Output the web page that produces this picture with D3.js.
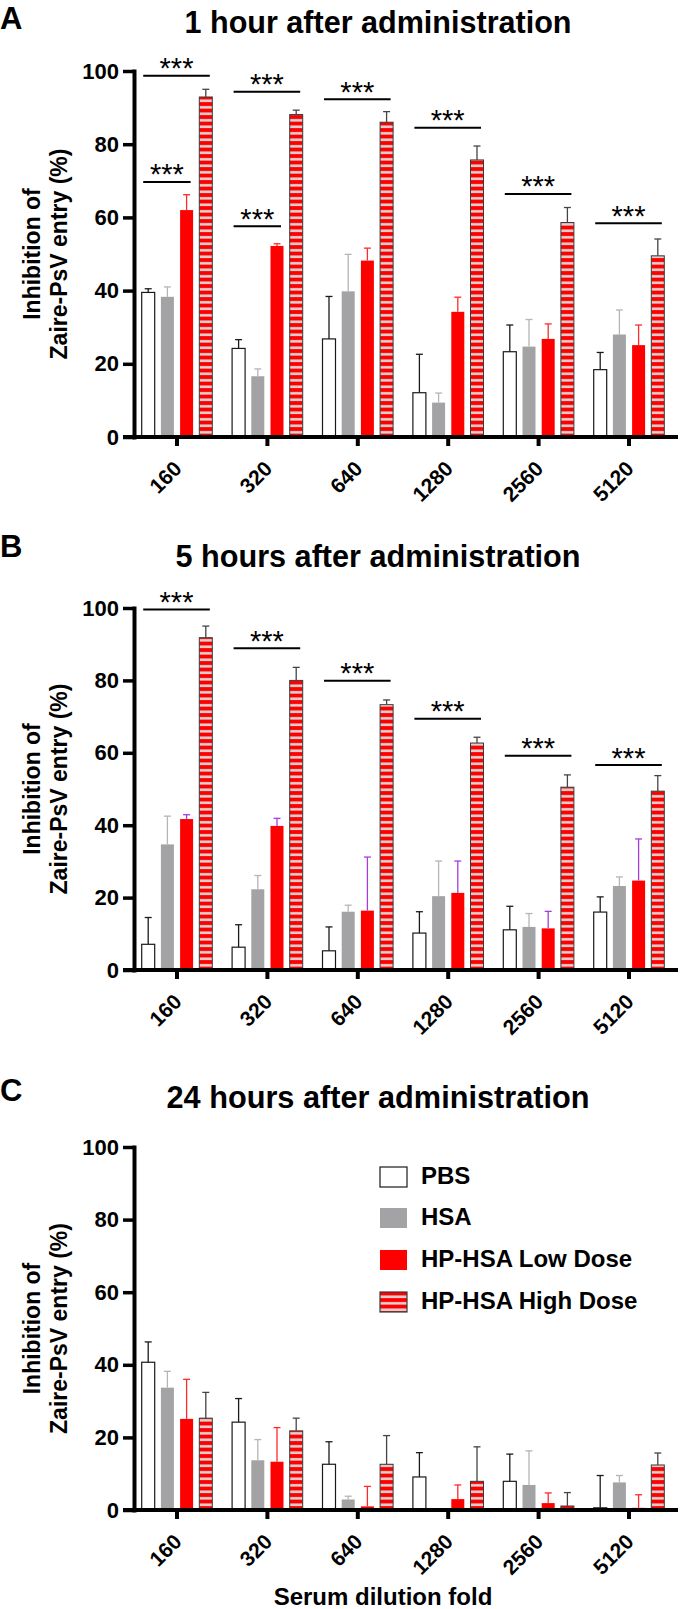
<!DOCTYPE html>
<html>
<head>
<meta charset="utf-8">
<script src="https://cdn.jsdelivr.net/npm/d3@7"></script>
<style>
  html, body { margin: 0; padding: 0; background: #fff; }
  svg { display: block; }
  text { font-family: "Liberation Sans", Arial, Helvetica, sans-serif; fill: #000; }
</style>
</head>
<body>
<svg id="chart" width="680" height="1609"></svg>
<script>
// ---------- data ----------
const dilutions = ["160", "320", "640", "1280", "2560", "5120"];
const seriesNames = ["PBS", "HSA", "HP-HSA Low Dose", "HP-HSA High Dose"];
const yTicks = [0, 20, 40, 60, 80, 100];

// Panel A: 1 hour
const pbsA   = [39.5, 24.2, 26.8, 12.1, 23.3, 18.4];
const pbsErrA = [1.0, 2.4, 11.6, 10.5, 7.3, 4.7];
const hsaA   = [38.3, 16.6, 39.8, 9.4, 24.7, 28.0];
const hsaErrA = [2.7, 2.0, 10.1, 2.6, 7.4, 6.7];
const lowA   = [62.0, 52.2, 48.2, 34.2, 26.8, 25.1];
const lowErrA = [4.2, 0.6, 3.4, 4.0, 4.1, 5.5];
const highA  = [92.9, 88.1, 86.0, 75.7, 58.6, 49.5];
const highErrA = [2.1, 1.2, 2.9, 3.8, 4.1, 4.6];

// Panel B: 5 hours
const pbsB   = [7.1, 6.3, 5.3, 10.2, 11.1, 16.0];
const pbsErrB = [7.4, 6.2, 6.6, 5.9, 6.5, 4.2];
const hsaB   = [34.7, 22.3, 16.1, 20.4, 11.9, 23.2];
const hsaErrB = [7.8, 3.8, 1.8, 9.7, 3.7, 2.5];
const lowB   = [41.7, 39.8, 16.4, 21.3, 11.5, 24.7];
const lowErrB = [1.2, 2.1, 14.8, 8.8, 4.7, 11.5];
const highB  = [91.8, 80.0, 73.3, 62.7, 50.5, 49.4];
const highErrB = [3.2, 3.6, 1.3, 1.6, 3.4, 4.3];

// Panel C: 24 hours
const pbsC   = [40.7, 24.2, 12.6, 9.1, 7.9, 0.6];
const pbsErrC = [5.6, 6.5, 6.2, 6.7, 7.5, 8.9];
const hsaC   = [33.7, 13.7, 2.9, 0, 6.9, 7.6];
const hsaErrC = [4.5, 5.7, 0.9, 0, 9.4, 1.9];
const lowC   = [25.1, 13.3, 1.0, 3.0, 1.9, 0.6];
const lowErrC = [10.9, 9.4, 5.5, 3.9, 2.8, 3.6];
const highC  = [25.3, 21.8, 12.6, 7.9, 1.1, 12.4];
const highErrC = [7.1, 3.5, 7.9, 9.5, 3.7, 3.3];

// significance brackets: [group index, from series, to series, height]
const sigA = [[0,0,3,98.7],[0,0,2,69.7],[1,0,3,94.3],[1,0,2,57.6],[2,0,3,92.3],[3,0,3,84.5],[4,0,3,66.4],[5,0,3,58.4]];
const sigB = [[0,0,3,99.6],[1,0,3,88.9],[2,0,3,79.9],[3,0,3,69.4],[4,0,3,59.2],[5,0,3,56.6]];
const sigC = [];

const titles = ["1 hour after administration", "5 hours after administration", "24 hours after administration"];
const letters = ["A", "B", "C"];

// ---------- layout ----------
const panels = [
  { y100: 71,   y0: 437,  titleY: 33,   titleW: 387, letterY: 28.5, vals: [pbsA, hsaA, lowA, highA], errs: [pbsErrA, hsaErrA, lowErrA, highErrA], sig: sigA, lowErrColor: "#ff2a2a" },
  { y100: 608,  y0: 970,  titleY: 567,  titleW: 405, letterY: 557,  vals: [pbsB, hsaB, lowB, highB], errs: [pbsErrB, hsaErrB, lowErrB, highErrB], sig: sigB, lowErrColor: "#a63de0" },
  { y100: 1147, y0: 1510, titleY: 1108, titleW: 423, letterY: 1101, vals: [pbsC, hsaC, lowC, highC], errs: [pbsErrC, hsaErrC, lowErrC, highErrC], sig: sigC, lowErrColor: "#ff2a2a" }
];

const axisX = 134;
const svg = d3.select("#chart");

const defs = svg.append("defs");
const pat = defs.append("pattern").attr("id", "stripes")
  .attr("patternUnits", "userSpaceOnUse").attr("width", 10).attr("height", 6.5);
pat.append("rect").attr("width", 10).attr("height", 6.5).attr("fill", "#ff0000");
pat.append("rect").attr("y", 2).attr("width", 10).attr("height", 2.6).attr("fill", "#dcd3d3");

const fills = ["#ffffff", "#a3a3a6", "#ff0000", "url(#stripes)"];
const strokes = ["#1a1a1a", "none", "none", "#3a3a3a"];

const x0 = d3.scaleBand().domain(dilutions).range([131.8, 674.2]).padding(0);
const x1 = d3.scaleBand().domain(d3.range(4)).range([-35.3, 35.3]).paddingInner(0.323).paddingOuter(0);

panels.forEach((p, pi) => {
  const g = svg.append("g");
  const y = d3.scaleLinear().domain([0, 100]).range([p.y0, p.y100]);
  const center = d => x0(d) + x0.bandwidth() / 2;

  // letter + title
  g.append("text").attr("x", 0).attr("y", p.letterY)
    .attr("font-size", 31).attr("font-weight", "bold").text(letters[pi]);
  g.append("text").attr("x", 378).attr("y", p.titleY).attr("text-anchor", "middle")
    .attr("font-size", 31.5).attr("font-weight", "bold")
    .attr("textLength", p.titleW).attr("lengthAdjust", "spacingAndGlyphs")
    .text(titles[pi]);

  // y-axis title
  const mid = (p.y0 + p.y100) / 2;
  g.append("text").attr("transform", `translate(40,${mid}) rotate(-90)`)
    .attr("text-anchor", "middle").attr("font-size", 23).attr("font-weight", "bold")
    .text("Inhibition of");
  g.append("text").attr("transform", `translate(67,${mid}) rotate(-90)`)
    .attr("text-anchor", "middle").attr("font-size", 23).attr("font-weight", "bold")
    .text("Zaire-PsV entry (%)");

  // bars
  p.vals.forEach((vals, si) => {
    dilutions.forEach((d, di) => {
      const v = vals[di];
      const e = p.errs[si][di];
      const bx = center(d) + x1(si);
      const bw = x1.bandwidth();
      if (v > 0) {
        g.append("rect").attr("x", bx).attr("y", y(v)).attr("width", bw)
          .attr("height", y(0) - y(v)).attr("fill", fills[si])
          .attr("stroke", strokes[si]).attr("stroke-width", si === 0 ? 1.2 : 1);
      }
      if (e > 0) {
        const cx = bx + bw / 2;
        const ec = si === 2 ? p.lowErrColor : ["#1a1a1a", "#b5b5b5", "#ff2a2a", "#444444"][si];
        g.append("line").attr("x1", cx).attr("x2", cx).attr("y1", y(v)).attr("y2", y(v + e))
          .attr("stroke", ec).attr("stroke-width", 1.3);
        g.append("line").attr("x1", cx - 3.5).attr("x2", cx + 3.5).attr("y1", y(v + e)).attr("y2", y(v + e))
          .attr("stroke", ec).attr("stroke-width", 1.3);
      }
    });
  });

  // significance
  p.sig.forEach(([gi, from, to, h]) => {
    const c = center(dilutions[gi]);
    const xa = c + x1(from) + x1.bandwidth() / 2 - 5;
    const xb = c + x1(to) + x1.bandwidth() / 2 + 4;
    g.append("line").attr("x1", xa).attr("x2", xb).attr("y1", y(h)).attr("y2", y(h))
      .attr("stroke", "#000").attr("stroke-width", 2);
    g.append("text").attr("x", (xa + xb) / 2).attr("y", y(h) + 2.5)
      .attr("text-anchor", "middle").attr("font-size", 29).text("***");
  });

  // y axis
  const ya = g.append("g").attr("transform", `translate(${axisX},0)`)
    .call(d3.axisLeft(y).tickValues(yTicks).tickSize(11).tickSizeOuter(0).tickPadding(4));
  ya.select(".domain").attr("stroke", "#000").attr("stroke-width", 4).attr("stroke-linecap", "square");
  ya.selectAll(".tick line").attr("stroke", "#000").attr("stroke-width", 3.5);
  ya.selectAll(".tick text").attr("font-size", 22).attr("font-weight", "bold")
    .attr("font-family", "'Liberation Sans', Arial, sans-serif").attr("fill", "#000");

  // x axis
  g.append("line").attr("x1", 123).attr("x2", 678).attr("y1", p.y0).attr("y2", p.y0)
    .attr("stroke", "#000").attr("stroke-width", 4);
  const xa = g.append("g").attr("transform", `translate(0,${p.y0})`)
    .call(d3.axisBottom(x0).tickSize(9).tickSizeOuter(0));
  xa.select(".domain").remove();
  xa.selectAll(".tick line").attr("stroke", "#000").attr("stroke-width", 4);
  xa.selectAll(".tick text")
    .attr("font-size", 21).attr("font-weight", "bold")
    .attr("font-family", "'Liberation Sans', Arial, sans-serif").attr("fill", "#000")
    .attr("text-anchor", "end").attr("dy", 0)
    .attr("transform", "translate(6,33) rotate(-45)").attr("y", 0).attr("x", 0);
});

// x-axis title (bottom panel)
svg.append("text").attr("x", 383).attr("y", 1605).attr("text-anchor", "middle")
  .attr("font-size", 24).attr("font-weight", "bold").text("Serum dilution fold");

// legend
const legendTop = [1167, 1208, 1250, 1292];
const lg = svg.append("g");
seriesNames.forEach((s, i) => {
  lg.append("rect").attr("x", 380).attr("y", legendTop[i]).attr("width", 27).attr("height", 20)
    .attr("fill", fills[i]).attr("stroke", i === 0 ? "#1a1a1a" : (i === 3 ? "#3a3a3a" : "none"))
    .attr("stroke-width", 1.2);
  lg.append("text").attr("x", 421).attr("y", legendTop[i] + 17)
    .attr("font-size", 24).attr("font-weight", "bold").text(s);
});
</script>
</body>
</html>
